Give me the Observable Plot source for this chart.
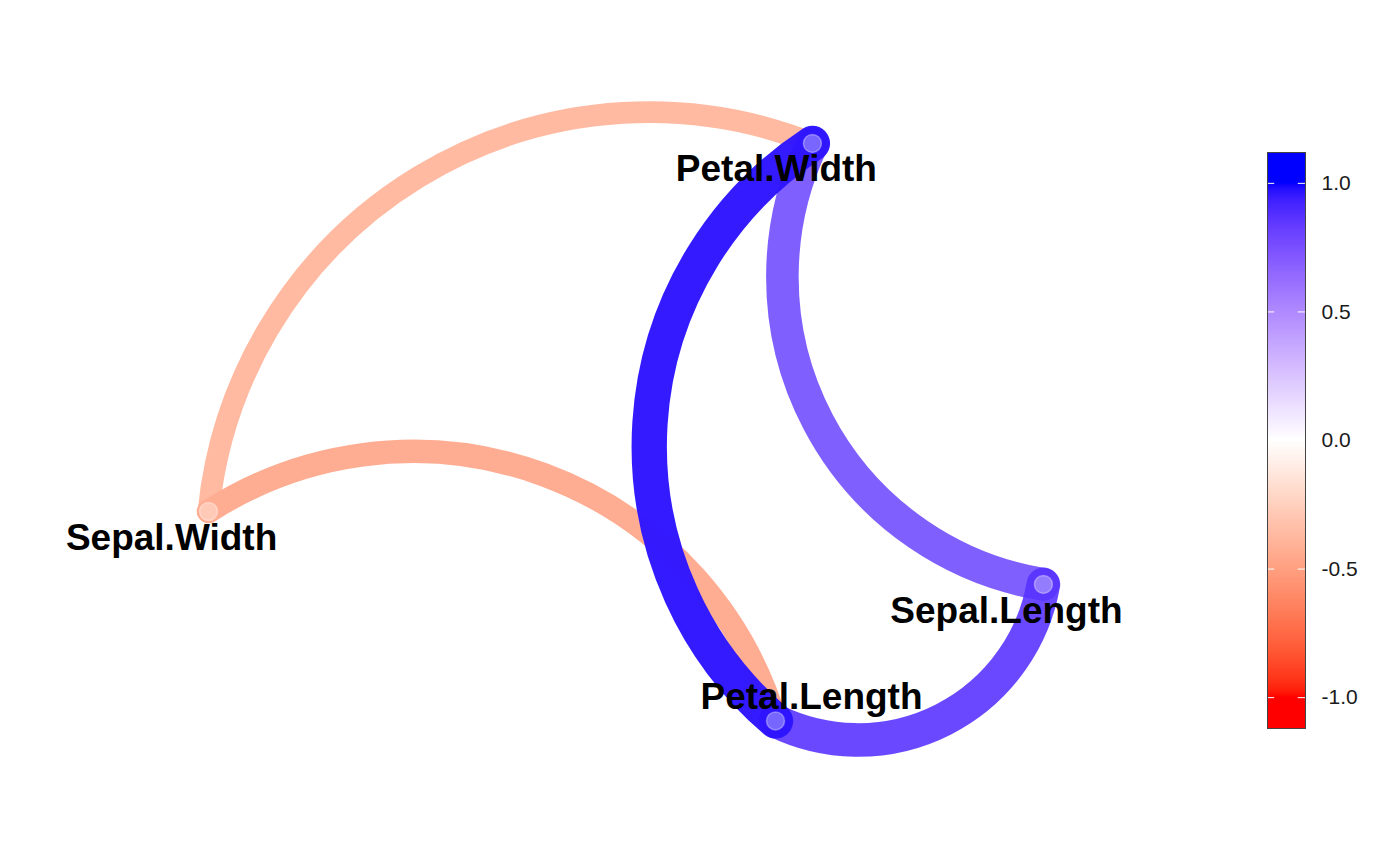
<!DOCTYPE html>
<html>
<head>
<meta charset="utf-8">
<script src="https://cdn.jsdelivr.net/npm/d3@7"></script>
<script src="https://cdn.jsdelivr.net/npm/@observablehq/plot@0.6"></script>
<style>
  html, body { margin: 0; padding: 0; background: #fff; }
  #wrap { position: relative; width: 1400px; height: 866px; overflow: hidden; font-family: "Liberation Sans", Arial, sans-serif; }
  #legend { position: absolute; left: 1240px; top: 140px; }
  #main { position: absolute; left: 0; top: 0; }
</style>
</head>
<body>
<div id="wrap"><div id="main"></div><div id="legend"></div></div>
<script>
// Node layout (MDS-like coordinates)
const nodeNames = ["Sepal.Length", "Sepal.Width", "Petal.Length", "Petal.Width"];
const nodeX = [1.343, -1.440, 0.450, 0.573];
const nodeY = [-0.513, -0.270, -0.968, 0.957];
// Label positions (repelled)
const labelX = [1.220, -1.563, 0.570, 0.453];
const labelY = [-0.602, -0.360, -0.890, 0.872];

// Correlation paths (|r| >= 0.3)
const edgeFrom = ["Petal.Width", "Petal.Length", "Petal.Width", "Petal.Length", "Petal.Width"];
const edgeTo   = ["Sepal.Width", "Sepal.Width", "Sepal.Length", "Sepal.Length", "Petal.Length"];
const edgeR    = [-0.366, -0.428, 0.818, 0.872, 0.963];

// Legend ticks
const legendTicks = [-1, -0.5, 0, 0.5, 1];

const nodes = nodeNames.map((name, i) => ({name, x: nodeX[i], y: nodeY[i], lx: labelX[i], ly: labelY[i]}));
const byName = new Map(nodes.map(d => [d.name, d]));
const edges = edgeR.map((r, i) => {
  const a = byName.get(edgeFrom[i]), b = byName.get(edgeTo[i]);
  return {r, x1: a.x, y1: a.y, x2: b.x, y2: b.y};
});

const colorScale = {
  type: "linear",
  domain: [-1, 0, 1],
  range: ["red", "white", "blue"],
  interpolate: d3.interpolateLab,
  clamp: true
};

const main = Plot.plot({
  width: 1400,
  height: 866,
  margin: 0,
  x: {domain: [-640 / 300, 760 / 300], axis: null},
  y: {domain: [-436 / 300, 430 / 300], axis: null},
  color: colorScale,
  style: {fontFamily: "'Liberation Sans', Arial, sans-serif", background: "transparent"},
  marks: [
    Plot.arrow(edges, {
      x1: "x1", y1: "y1", x2: "x2", y2: "y2",
      bend: -53,
      headLength: 0,
      stroke: "r",
      strokeWidth: d => 36 * Math.sqrt(Math.abs(d.r)),
      strokeOpacity: d => d.r > 0 ? 0.1 + 0.9 * d.r : 1,
      strokeLinecap: "round"
    }),
    Plot.dot(nodes, {
      x: "x", y: "y", r: 9,
      fill: "white", fillOpacity: 0.35,
      stroke: "white", strokeOpacity: 0.35, strokeWidth: 1.5
    }),
    Plot.text(nodes, {
      x: "lx", y: "ly", text: "name",
      fontSize: 37, fontWeight: "bold", fill: "black",
      textAnchor: "middle"
    })
  ]
});
document.getElementById("main").appendChild(main);

// Colour bar legend
const binVals = d3.range(-1.12, 1.12, 0.004);
const legend = Plot.plot({
  width: 160,
  height: 600,
  marginTop: 12,
  marginBottom: 12,
  marginLeft: 27,
  marginRight: 95,
  x: {domain: [0, 1], axis: null},
  y: {domain: [-1.12, 1.12]},
  color: colorScale,
  style: {fontFamily: "'Liberation Sans', Arial, sans-serif", fontSize: "21px", color: "#1a1a1a", background: "transparent"},
  marks: [
    Plot.rectY(binVals, {
      x1: 0, x2: 1, y1: d => d, y2: d => Math.min(1.12, d + 0.008),
      fill: d => d + 0.002, shapeRendering: "crispEdges"
    }),
    Plot.ruleY(legendTicks, {y: d => d, x1: 0, x2: 0.19, stroke: "white", strokeWidth: 1}),
    Plot.ruleY(legendTicks, {y: d => d, x1: 0.81, x2: 1, stroke: "white", strokeWidth: 1}),
    Plot.frame({stroke: "#444", strokeWidth: 1}),
    Plot.axisY({
      anchor: "right", ticks: legendTicks, tickSize: 0, tickPadding: 16,
      tickFormat: d => d.toFixed(1), label: null, fontSize: 21, fill: "#1a1a1a"
    })
  ]
});
document.getElementById("legend").appendChild(legend);
</script>
</body>
</html>
